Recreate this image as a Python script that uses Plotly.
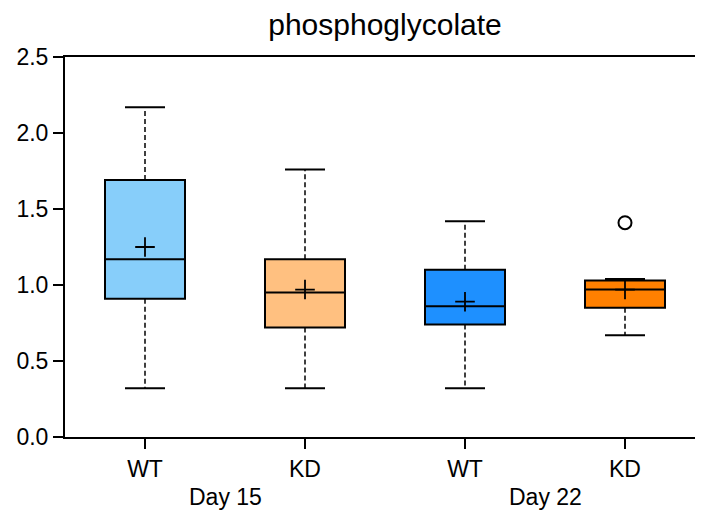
import plotly.graph_objects as go

# groups along the x axis
conditions = ["WT", "KD", "WT", "KD"]
days = ["Day 15", "Day 22"]
colors = ["#87CEFA", "#FFC080", "#1E90FF", "#FF8000"]

# box statistics
lower = [0.32, 0.32, 0.32, 0.67]
q1 = [0.91, 0.72, 0.74, 0.85]
median = [1.17, 0.95, 0.86, 0.97]
q3 = [1.69, 1.17, 1.10, 1.03]
upper = [2.17, 1.76, 1.42, 1.04]
means = [1.25, 0.97, 0.89, 0.97]

# outliers: (group index, value)
outlier_x = [3]
outlier_y = [1.41]

box_w = 0.5
cap_w = 0.25
FONT = "Liberation Sans, Arial, sans-serif"

fig = go.Figure()

# dashed whiskers + solid caps
for i in range(len(conditions)):
    fig.add_trace(go.Scatter(
        x=[i, i, None, i, i], y=[q3[i], upper[i], None, q1[i], lower[i]],
        mode="lines", line=dict(color="black", width=1.5, dash="5px,3px"),
        showlegend=False, hoverinfo="skip"))
    fig.add_trace(go.Scatter(
        x=[i - cap_w / 2, i + cap_w / 2, None, i - cap_w / 2, i + cap_w / 2],
        y=[upper[i], upper[i], None, lower[i], lower[i]],
        mode="lines", line=dict(color="black", width=2),
        showlegend=False, hoverinfo="skip"))

# boxes
for i in range(len(conditions)):
    fig.add_trace(go.Box(
        x=[i], q1=[q1[i]], median=[median[i]], q3=[q3[i]],
        lowerfence=[q1[i]], upperfence=[q3[i]],
        width=box_w, whiskerwidth=0,
        fillcolor=colors[i], line=dict(color="black", width=2),
        showlegend=False))

# means
fig.add_trace(go.Scatter(
    x=list(range(len(conditions))), y=means, mode="markers",
    marker=dict(symbol="cross-thin", size=14, line=dict(color="black", width=1.8)),
    showlegend=False))

# outliers
fig.add_trace(go.Scatter(
    x=outlier_x, y=outlier_y, mode="markers",
    marker=dict(symbol="circle-open", size=13, color="black", line=dict(width=2)),
    showlegend=False))

# day labels under pairs
for d, day in enumerate(days):
    fig.add_annotation(x=2 * d + 0.5, y=0, xref="x", yref="paper",
                       yanchor="middle", yshift=-60,
                       text=day, showarrow=False,
                       font=dict(family=FONT, size=23, color="black"))

fig.update_layout(
    width=697, height=507,
    margin=dict(l=57, r=0, t=49, b=78),
    plot_bgcolor="white", paper_bgcolor="white",
    font=dict(family=FONT, size=23, color="black"),
    title=dict(text="phosphoglycolate", x=(57 + 697) / 2 / 697, xanchor="center",
               y=1 - 16 / 507, yanchor="middle",
               font=dict(family=FONT, size=30, color="black")),
)
fig.update_xaxes(
    range=[-0.5, 3.5], tickvals=list(range(len(conditions))), ticktext=conditions,
    showline=True, linecolor="black", linewidth=2, mirror=True,
    ticks="outside", ticklen=10, tickwidth=2, tickcolor="black",
    showgrid=False, zeroline=False)
fig.update_yaxes(
    range=[0, 2.5], tickvals=[0, 0.5, 1.0, 1.5, 2.0, 2.5], tickformat=".1f",
    showline=True, linecolor="black", linewidth=2,
    ticks="outside", ticklen=10, tickwidth=2, tickcolor="black",
    showgrid=False, zeroline=False)

fig.write_html("out.html")
